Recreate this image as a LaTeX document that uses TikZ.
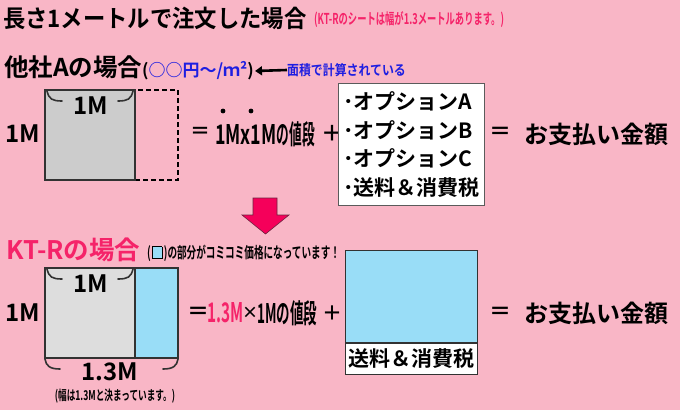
\documentclass[tikz,border=0pt]{standalone}
\usepackage{fontspec}
\setmainfont{Noto Sans CJK JP}[BoldFont={Noto Sans CJK JP Bold}]
\usetikzlibrary{arrows.meta}
\definecolor{bgpink}{RGB}{249,182,198}
\definecolor{hotred}{RGB}{245,0,90}
\definecolor{ktred}{RGB}{245,35,105}
\definecolor{noteblue}{RGB}{30,30,225}
\definecolor{skyb}{RGB}{153,221,247}
\definecolor{greyA}{RGB}{204,204,204}
\definecolor{greyB}{RGB}{221,221,221}
\definecolor{edge}{RGB}{50,50,50}

\begin{document}
\begin{tikzpicture}[x=1pt,y=-1pt,>=Latex,
  ttl/.style={anchor=west,inner sep=0pt,font=\bfseries\fontsize{24}{28}\selectfont},
  lbl/.style={inner sep=0pt,font=\bfseries\fontsize{24}{26}\selectfont},
  note/.style={anchor=west,inner sep=0pt,xscale=0.62,font=\bfseries\fontsize{15}{17}\selectfont},
  cond/.style={anchor=west,inner sep=0pt,font=\bfseries\fontsize{27}{29}\selectfont},
  sheet/.style={draw=edge,line width=1.4pt,inner sep=0pt,minimum width=90pt,minimum height=90pt},
  strip/.style={draw=edge,line width=1.4pt,inner sep=0pt,minimum width=43pt,minimum height=90pt},
  feebox/.style={draw=edge!80,line width=1pt,fill=white,inner sep=0pt,minimum width=132pt},
  brc/.style={draw=edge,line width=1.6pt,line cap=round}]
  \useasboundingbox[fill=bgpink] (0,0) rectangle (680,410);

  \node[ttl,xscale=0.93] (title) at (3,18) {長さ1メートルで注文した場合};
  \node[note,text=ktred] (titlenote) at (314,20) {(KT-Rのシートは幅が1.3メートルあります。)};

  \node[ttl,font=\bfseries\fontsize{24.5}{28}\selectfont] (headA) at (4,67) {他社Aの場合};
  \node[anchor=west,inner sep=0pt,font=\bfseries\fontsize{17}{19}\selectfont] (unitA) at (142,71)
    {(\textcolor{noteblue}{○○円～/ｍ²})};
  \node[anchor=west,inner sep=0pt,xscale=0.85,text=noteblue,font=\bfseries\fontsize{14}{16}\selectfont]
    (areaA) at (287,70) {面積で計算されている};
  \draw[line width=2.6pt,-{Triangle[length=7pt,width=9pt]}] (areaA.west) -- ([xshift=1pt]unitA.east);

  \node[strip,draw=black,dash pattern=on 5pt off 3pt,line width=1.2pt] (extA) at (156.5,135) {};
  \node[sheet,fill=greyA] (sqA) at (90,135) {};
  \node[sheet,fill=greyB] (sqB) at (90,313) {};
  \node[strip,fill=skyb] (extB) at (156.5,313) {};

  \foreach \yy in {90,268} {
    \draw[brc] (47,\yy+1) .. controls (49,\yy+9) and (52,\yy+11) .. (62,\yy+11);
    \draw[brc] (133,\yy+1) .. controls (131,\yy+9) and (128,\yy+11) .. (118,\yy+11);
    \node[lbl] at (91,\yy+16) {1M};
  }
  \draw[brc] (45,359) .. controls (46,366) and (50,369) .. (60,369);
  \draw[brc] (178,359) .. controls (177,366) and (173,369) .. (163,369);
  \node[lbl] (wideB) at (110,372) {1.3M};
  \node[anchor=center,inner sep=0pt,xscale=0.64,font=\bfseries\fontsize{13.5}{15}\selectfont]
    (wideNote) at (115,396) {(幅は1.3Mと決まっています。)};

  \node[lbl] (sideA) at (23,134) {1M};
  \node[lbl] (sideB) at (23,313) {1M};

  \node[lbl,font=\bfseries\fontsize{20}{22}\selectfont] (eqA) at (200,133) {＝};
  \node[cond,xscale=0.66] (priceA) at (215,134) {1Mx1M};
  \node[cond,xscale=0.47] (priceAx) at (priceA.east) {の値段};
  \fill (223,111) circle (2.4) (251,111) circle (2.4);
  \node[lbl,font=\bfseries\fontsize{22}{24}\selectfont] (plusA) at (332,133) {＋};

  \node[feebox,minimum height=122pt,align=left,anchor=north,inner xsep=5pt,
    font=\bfseries\fontsize{21}{28.5}\selectfont] (optA) at (411.5,83)
    {･オプションA\\･オプションB\\･オプションC\\･送料＆消費税};

  \node[lbl,font=\bfseries\fontsize{22}{24}\selectfont] (eqA2) at (500,133) {＝};
  \node[ttl] (payA) at (524,134) {お支払い金額};

  \fill[hotred,draw=edge!70!hotred,line width=0.6pt] (253,198) -- (277,198) -- (277,215) -- (289,215)
    -- (265.5,234) -- (242,215) -- (253,215) -- cycle;

  \node[ttl,text=ktred,font=\bfseries\fontsize{25.5}{28}\selectfont] (headB) at (6,250) {KT-Rの場合};
  \node[note,font=\bfseries\fontsize{15.5}{17}\selectfont] (compB) at (147,253)
    {(\,\setlength\fboxsep{0pt}\setlength\fboxrule{1pt}\fcolorbox{black}{skyb}{\rule{0pt}{11pt}\hspace{14pt}}\,)の部分がコミコミ価格になっています！};

  \node[lbl,font=\bfseries\fontsize{22}{24}\selectfont] (eqB) at (198,313) {＝};
  \node[cond,xscale=0.57,text=ktred] (rateB) at (207,313) {1.3M};
  \node[lbl,font=\bfseries\fontsize{16}{18}\selectfont] (timesB) at (250,313) {×};
  \node[cond,xscale=0.5] (priceB) at (257,313) {1Mの値段};
  \node[lbl,font=\bfseries\fontsize{20}{22}\selectfont] (plusB) at (332,313) {＋};

  \node[feebox,draw=edge,fill=skyb,minimum height=92pt] (feeB) at (411.5,296) {};
  \node[feebox,draw=edge,minimum height=31pt,font=\bfseries\fontsize{21}{23}\selectfont,anchor=north]
    (feeL) at (feeB.south) {送料＆消費税};

  \node[lbl,font=\bfseries\fontsize{22}{24}\selectfont] (eqB2) at (500,313) {＝};
  \node[ttl] (payB) at (524,313) {お支払い金額};
\end{tikzpicture}
\end{document}
